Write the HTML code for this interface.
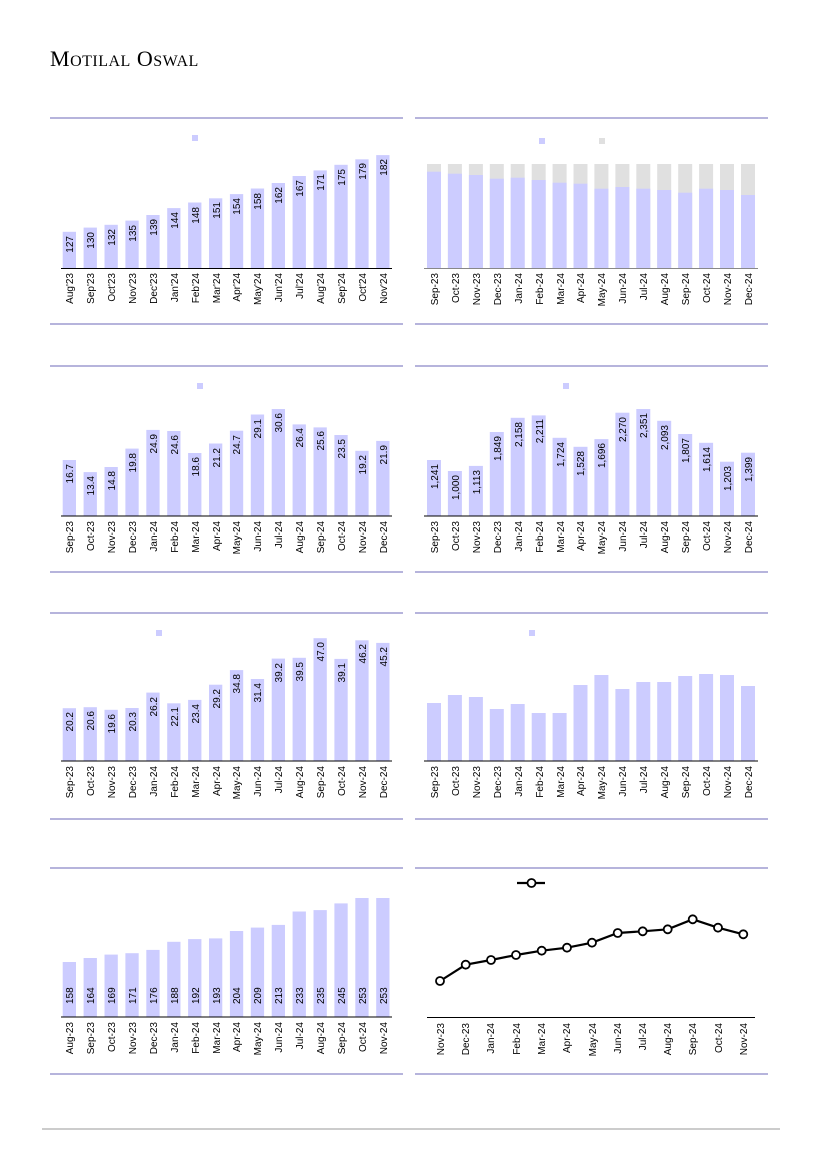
<!DOCTYPE html>
<html><head><meta charset="utf-8"><style>
html,body{margin:0;padding:0;background:#fff}
svg{display:block}
text{font-family:"Liberation Sans",sans-serif;font-size:10px;fill:#000}
.b{fill:#ccccff}.g{fill:#e0e0e0}
.r{stroke:#8a86c8;stroke-width:1.3}
.ax{stroke:#000;stroke-width:1}
</style></head><body>
<svg width="827" height="1169" viewBox="0 0 827 1169" xmlns="http://www.w3.org/2000/svg">
<text x="50" y="66" style="font-family:'Liberation Serif',serif;font-size:22px;letter-spacing:0.5px">M<tspan style="font-size:16px">OTILAL</tspan> O<tspan style="font-size:16px">SWAL</tspan></text>
<line x1="42" y1="1129" x2="780" y2="1129" stroke="#999" stroke-width="1"/>
<!-- rules -->
<g class="r">
<line x1="50" y1="118" x2="403" y2="118"/><line x1="50" y1="324" x2="403" y2="324"/>
<line x1="415" y1="118" x2="768" y2="118"/><line x1="415" y1="324" x2="768" y2="324"/>
<line x1="50" y1="366" x2="403" y2="366"/><line x1="50" y1="572" x2="403" y2="572"/>
<line x1="415" y1="366" x2="768" y2="366"/><line x1="415" y1="572" x2="768" y2="572"/>
<line x1="50" y1="613" x2="403" y2="613"/><line x1="50" y1="819" x2="403" y2="819"/>
<line x1="415" y1="613" x2="768" y2="613"/><line x1="415" y1="819" x2="768" y2="819"/>
<line x1="50" y1="868" x2="403" y2="868"/><line x1="50" y1="1074" x2="403" y2="1074"/>
<line x1="415" y1="868" x2="768" y2="868"/><line x1="415" y1="1074" x2="768" y2="1074"/>
</g>

<!-- Panel 1 -->
<rect class="b" x="192" y="135" width="6" height="6"/>
<g class="b">
<rect x="62.7" y="231.8" width="13.3" height="37.2"/><rect x="83.6" y="227.6" width="13.3" height="41.4"/><rect x="104.5" y="224.8" width="13.3" height="44.2"/><rect x="125.4" y="220.6" width="13.3" height="48.4"/><rect x="146.3" y="215" width="13.3" height="54"/><rect x="167.2" y="208.1" width="13.3" height="60.9"/><rect x="188.1" y="202.5" width="13.3" height="66.5"/><rect x="209" y="198.3" width="13.3" height="70.7"/><rect x="229.9" y="194.1" width="13.3" height="74.9"/><rect x="250.8" y="188.5" width="13.3" height="80.5"/><rect x="271.7" y="183" width="13.3" height="86"/><rect x="292.6" y="176" width="13.3" height="93"/><rect x="313.5" y="170.4" width="13.3" height="98.6"/><rect x="334.4" y="164.8" width="13.3" height="104.2"/><rect x="355.3" y="159.3" width="13.3" height="109.7"/><rect x="376.2" y="155.1" width="13.3" height="113.9"/>
</g>
<line class="ax" x1="61" y1="268.5" x2="392" y2="268.5"/>
<g text-anchor="end">
<text transform="translate(73,236) rotate(-90)">127</text><text transform="translate(94,232) rotate(-90)">130</text><text transform="translate(115,229) rotate(-90)">132</text><text transform="translate(136,225) rotate(-90)">135</text><text transform="translate(157,219) rotate(-90)">139</text><text transform="translate(178,212) rotate(-90)">144</text><text transform="translate(199,207) rotate(-90)">148</text><text transform="translate(220,202) rotate(-90)">151</text><text transform="translate(240,198) rotate(-90)">154</text><text transform="translate(261,193) rotate(-90)">158</text><text transform="translate(282,187) rotate(-90)">162</text><text transform="translate(303,180) rotate(-90)">167</text><text transform="translate(324,174) rotate(-90)">171</text><text transform="translate(345,169) rotate(-90)">175</text><text transform="translate(366,163) rotate(-90)">179</text><text transform="translate(387,159) rotate(-90)">182</text>
<text transform="translate(73,273) rotate(-90)">Aug'23</text><text transform="translate(94,273) rotate(-90)">Sep'23</text><text transform="translate(115,273) rotate(-90)">Oct'23</text><text transform="translate(136,273) rotate(-90)">Nov'23</text><text transform="translate(157,273) rotate(-90)">Dec'23</text><text transform="translate(178,273) rotate(-90)">Jan'24</text><text transform="translate(199,273) rotate(-90)">Feb'24</text><text transform="translate(220,273) rotate(-90)">Mar'24</text><text transform="translate(240,273) rotate(-90)">Apr'24</text><text transform="translate(261,273) rotate(-90)">May'24</text><text transform="translate(282,273) rotate(-90)">Jun'24</text><text transform="translate(303,273) rotate(-90)">Jul'24</text><text transform="translate(324,273) rotate(-90)">Aug'24</text><text transform="translate(345,273) rotate(-90)">Sep'24</text><text transform="translate(366,273) rotate(-90)">Oct'24</text><text transform="translate(387,273) rotate(-90)">Nov'24</text>
</g>

<!-- Panel 2 -->
<rect class="b" x="539" y="138" width="6" height="6"/><rect class="g" x="599" y="138" width="6" height="6"/>
<g class="g">
<rect x="427" y="164" width="14" height="105"/><rect x="447.9" y="164" width="14" height="105"/><rect x="468.9" y="164" width="14" height="105"/><rect x="489.8" y="164" width="14" height="105"/><rect x="510.7" y="164" width="14" height="105"/><rect x="531.7" y="164" width="14" height="105"/><rect x="552.6" y="164" width="14" height="105"/><rect x="573.5" y="164" width="14" height="105"/><rect x="594.4" y="164" width="14" height="105"/><rect x="615.4" y="164" width="14" height="105"/><rect x="636.3" y="164" width="14" height="105"/><rect x="657.2" y="164" width="14" height="105"/><rect x="678.2" y="164" width="14" height="105"/><rect x="699.1" y="164" width="14" height="105"/><rect x="720" y="164" width="14" height="105"/><rect x="741" y="164" width="14" height="105"/>
</g>
<g class="b">
<rect x="427" y="171.7" width="14" height="97.3"/><rect x="447.9" y="173.7" width="14" height="95.3"/><rect x="468.9" y="175" width="14" height="94"/><rect x="489.8" y="178.7" width="14" height="90.3"/><rect x="510.7" y="177.7" width="14" height="91.3"/><rect x="531.7" y="180" width="14" height="89"/><rect x="552.6" y="182.7" width="14" height="86.3"/><rect x="573.5" y="183.7" width="14" height="85.3"/><rect x="594.4" y="188.7" width="14" height="80.3"/><rect x="615.4" y="187" width="14" height="82"/><rect x="636.3" y="188.7" width="14" height="80.3"/><rect x="657.2" y="190" width="14" height="79"/><rect x="678.2" y="192.7" width="14" height="76.3"/><rect x="699.1" y="188.7" width="14" height="80.3"/><rect x="720" y="190" width="14" height="79"/><rect x="741" y="195" width="14" height="74"/>
</g>
<line x1="424" y1="268.5" x2="758" y2="268.5" stroke="#888"/>
<g text-anchor="end">
<text transform="translate(438,273) rotate(-90)">Sep-23</text><text transform="translate(459,273) rotate(-90)">Oct-23</text><text transform="translate(480,273) rotate(-90)">Nov-23</text><text transform="translate(501,273) rotate(-90)">Dec-23</text><text transform="translate(522,273) rotate(-90)">Jan-24</text><text transform="translate(543,273) rotate(-90)">Feb-24</text><text transform="translate(564,273) rotate(-90)">Mar-24</text><text transform="translate(584,273) rotate(-90)">Apr-24</text><text transform="translate(605,273) rotate(-90)">May-24</text><text transform="translate(626,273) rotate(-90)">Jun-24</text><text transform="translate(647,273) rotate(-90)">Jul-24</text><text transform="translate(668,273) rotate(-90)">Aug-24</text><text transform="translate(689,273) rotate(-90)">Sep-24</text><text transform="translate(710,273) rotate(-90)">Oct-24</text><text transform="translate(731,273) rotate(-90)">Nov-24</text><text transform="translate(752,273) rotate(-90)">Dec-24</text>
</g>

<!-- Panel 3 -->
<rect class="b" x="197" y="383" width="6" height="6"/>
<g class="b">
<rect x="62.7" y="460" width="13.3" height="56"/><rect x="83.6" y="472.1" width="13.3" height="43.9"/><rect x="104.5" y="467" width="13.3" height="49"/><rect x="125.4" y="448.6" width="13.3" height="67.4"/><rect x="146.3" y="429.9" width="13.3" height="86.1"/><rect x="167.2" y="431" width="13.3" height="85"/><rect x="188.1" y="453" width="13.3" height="63"/><rect x="209" y="443.5" width="13.3" height="72.5"/><rect x="229.9" y="430.7" width="13.3" height="85.3"/><rect x="250.8" y="414.5" width="13.3" height="101.5"/><rect x="271.7" y="409" width="13.3" height="107"/><rect x="292.6" y="424.4" width="13.3" height="91.6"/><rect x="313.5" y="427.4" width="13.3" height="88.6"/><rect x="334.4" y="435" width="13.3" height="81"/><rect x="355.3" y="450.8" width="13.3" height="65.2"/><rect x="376.2" y="440.9" width="13.3" height="75.1"/>
</g>
<line class="ax" x1="61" y1="516" x2="392" y2="516"/>
<g text-anchor="end">
<text transform="translate(73,464) rotate(-90)">16.7</text><text transform="translate(94,476) rotate(-90)">13.4</text><text transform="translate(115,471) rotate(-90)">14.8</text><text transform="translate(136,453) rotate(-90)">19.8</text><text transform="translate(157,434) rotate(-90)">24.9</text><text transform="translate(178,435) rotate(-90)">24.6</text><text transform="translate(199,457) rotate(-90)">18.6</text><text transform="translate(220,448) rotate(-90)">21.2</text><text transform="translate(240,435) rotate(-90)">24.7</text><text transform="translate(261,419) rotate(-90)">29.1</text><text transform="translate(282,413) rotate(-90)">30.6</text><text transform="translate(303,428) rotate(-90)">26.4</text><text transform="translate(324,431) rotate(-90)">25.6</text><text transform="translate(345,439) rotate(-90)">23.5</text><text transform="translate(366,455) rotate(-90)">19.2</text><text transform="translate(387,445) rotate(-90)">21.9</text>
<text transform="translate(73,521) rotate(-90)">Sep-23</text><text transform="translate(94,521) rotate(-90)">Oct-23</text><text transform="translate(115,521) rotate(-90)">Nov-23</text><text transform="translate(136,521) rotate(-90)">Dec-23</text><text transform="translate(157,521) rotate(-90)">Jan-24</text><text transform="translate(178,521) rotate(-90)">Feb-24</text><text transform="translate(199,521) rotate(-90)">Mar-24</text><text transform="translate(220,521) rotate(-90)">Apr-24</text><text transform="translate(240,521) rotate(-90)">May-24</text><text transform="translate(261,521) rotate(-90)">Jun-24</text><text transform="translate(282,521) rotate(-90)">Jul-24</text><text transform="translate(303,521) rotate(-90)">Aug-24</text><text transform="translate(324,521) rotate(-90)">Sep-24</text><text transform="translate(345,521) rotate(-90)">Oct-24</text><text transform="translate(366,521) rotate(-90)">Nov-24</text><text transform="translate(387,521) rotate(-90)">Dec-24</text>
</g>

<!-- Panel 4 -->
<rect class="b" x="563" y="383" width="6" height="6"/>
<g class="b">
<rect x="427" y="460" width="14" height="56"/><rect x="447.9" y="471" width="14" height="45"/><rect x="468.9" y="465.9" width="14" height="50.1"/><rect x="489.8" y="432" width="14" height="84"/><rect x="510.7" y="417.8" width="14" height="98.2"/><rect x="531.7" y="415.4" width="14" height="100.6"/><rect x="552.6" y="437.8" width="14" height="78.2"/><rect x="573.5" y="446.8" width="14" height="69.2"/><rect x="594.4" y="439.1" width="14" height="76.9"/><rect x="615.4" y="412.7" width="14" height="103.3"/><rect x="636.3" y="409" width="14" height="107"/><rect x="657.2" y="420.8" width="14" height="95.2"/><rect x="678.2" y="434" width="14" height="82"/><rect x="699.1" y="442.8" width="14" height="73.2"/><rect x="720" y="461.7" width="14" height="54.3"/><rect x="741" y="452.7" width="14" height="63.3"/>
</g>
<line class="ax" x1="424" y1="516" x2="758" y2="516"/>
<g text-anchor="end">
<text transform="translate(438,464) rotate(-90)">1,241</text><text transform="translate(459,475) rotate(-90)">1,000</text><text transform="translate(480,470) rotate(-90)">1,113</text><text transform="translate(501,436) rotate(-90)">1,849</text><text transform="translate(522,422) rotate(-90)">2,158</text><text transform="translate(543,419) rotate(-90)">2,211</text><text transform="translate(564,442) rotate(-90)">1,724</text><text transform="translate(584,451) rotate(-90)">1,528</text><text transform="translate(605,443) rotate(-90)">1,696</text><text transform="translate(626,417) rotate(-90)">2,270</text><text transform="translate(647,413) rotate(-90)">2,351</text><text transform="translate(668,425) rotate(-90)">2,093</text><text transform="translate(689,438) rotate(-90)">1,807</text><text transform="translate(710,447) rotate(-90)">1,614</text><text transform="translate(731,466) rotate(-90)">1,203</text><text transform="translate(752,457) rotate(-90)">1,399</text>
<text transform="translate(438,521) rotate(-90)">Sep-23</text><text transform="translate(459,521) rotate(-90)">Oct-23</text><text transform="translate(480,521) rotate(-90)">Nov-23</text><text transform="translate(501,521) rotate(-90)">Dec-23</text><text transform="translate(522,521) rotate(-90)">Jan-24</text><text transform="translate(543,521) rotate(-90)">Feb-24</text><text transform="translate(564,521) rotate(-90)">Mar-24</text><text transform="translate(584,521) rotate(-90)">Apr-24</text><text transform="translate(605,521) rotate(-90)">May-24</text><text transform="translate(626,521) rotate(-90)">Jun-24</text><text transform="translate(647,521) rotate(-90)">Jul-24</text><text transform="translate(668,521) rotate(-90)">Aug-24</text><text transform="translate(689,521) rotate(-90)">Sep-24</text><text transform="translate(710,521) rotate(-90)">Oct-24</text><text transform="translate(731,521) rotate(-90)">Nov-24</text><text transform="translate(752,521) rotate(-90)">Dec-24</text>
</g>

<!-- Panel 5 -->
<rect class="b" x="156" y="630" width="6" height="6"/>
<g class="b">
<rect x="62.7" y="708.2" width="13.3" height="52.8"/><rect x="83.6" y="707.2" width="13.3" height="53.8"/><rect x="104.5" y="709.8" width="13.3" height="51.2"/><rect x="125.4" y="708" width="13.3" height="53"/><rect x="146.3" y="692.6" width="13.3" height="68.4"/><rect x="167.2" y="703.3" width="13.3" height="57.7"/><rect x="188.1" y="699.9" width="13.3" height="61.1"/><rect x="209" y="684.7" width="13.3" height="76.3"/><rect x="229.9" y="670.1" width="13.3" height="90.9"/><rect x="250.8" y="679" width="13.3" height="82"/><rect x="271.7" y="658.6" width="13.3" height="102.4"/><rect x="292.6" y="657.8" width="13.3" height="103.2"/><rect x="313.5" y="638.2" width="13.3" height="122.8"/><rect x="334.4" y="658.9" width="13.3" height="102.1"/><rect x="355.3" y="640.3" width="13.3" height="120.7"/><rect x="376.2" y="642.9" width="13.3" height="118.1"/>
</g>
<line class="ax" x1="61" y1="761" x2="392" y2="761"/>
<g text-anchor="end">
<text transform="translate(73,712) rotate(-90)">20.2</text><text transform="translate(94,711) rotate(-90)">20.6</text><text transform="translate(115,714) rotate(-90)">19.6</text><text transform="translate(136,712) rotate(-90)">20.3</text><text transform="translate(157,697) rotate(-90)">26.2</text><text transform="translate(178,707) rotate(-90)">22.1</text><text transform="translate(199,704) rotate(-90)">23.4</text><text transform="translate(220,689) rotate(-90)">29.2</text><text transform="translate(240,674) rotate(-90)">34.8</text><text transform="translate(261,683) rotate(-90)">31.4</text><text transform="translate(282,663) rotate(-90)">39.2</text><text transform="translate(303,662) rotate(-90)">39.5</text><text transform="translate(324,642) rotate(-90)">47.0</text><text transform="translate(345,663) rotate(-90)">39.1</text><text transform="translate(366,644) rotate(-90)">46.2</text><text transform="translate(387,647) rotate(-90)">45.2</text>
<text transform="translate(73,766) rotate(-90)">Sep-23</text><text transform="translate(94,766) rotate(-90)">Oct-23</text><text transform="translate(115,766) rotate(-90)">Nov-23</text><text transform="translate(136,766) rotate(-90)">Dec-23</text><text transform="translate(157,766) rotate(-90)">Jan-24</text><text transform="translate(178,766) rotate(-90)">Feb-24</text><text transform="translate(199,766) rotate(-90)">Mar-24</text><text transform="translate(220,766) rotate(-90)">Apr-24</text><text transform="translate(240,766) rotate(-90)">May-24</text><text transform="translate(261,766) rotate(-90)">Jun-24</text><text transform="translate(282,766) rotate(-90)">Jul-24</text><text transform="translate(303,766) rotate(-90)">Aug-24</text><text transform="translate(324,766) rotate(-90)">Sep-24</text><text transform="translate(345,766) rotate(-90)">Oct-24</text><text transform="translate(366,766) rotate(-90)">Nov-24</text><text transform="translate(387,766) rotate(-90)">Dec-24</text>
</g>

<!-- Panel 6 -->
<rect class="b" x="529" y="630" width="6" height="6"/>
<g class="b">
<rect x="427" y="703" width="14" height="58"/><rect x="447.9" y="695" width="14" height="66"/><rect x="468.9" y="697" width="14" height="64"/><rect x="489.8" y="709" width="14" height="52"/><rect x="510.7" y="704" width="14" height="57"/><rect x="531.7" y="713" width="14" height="48"/><rect x="552.6" y="713" width="14" height="48"/><rect x="573.5" y="685" width="14" height="76"/><rect x="594.4" y="675" width="14" height="86"/><rect x="615.4" y="689" width="14" height="72"/><rect x="636.3" y="682" width="14" height="79"/><rect x="657.2" y="682" width="14" height="79"/><rect x="678.2" y="676" width="14" height="85"/><rect x="699.1" y="674" width="14" height="87"/><rect x="720" y="675" width="14" height="86"/><rect x="741" y="686" width="14" height="75"/>
</g>
<line class="ax" x1="424" y1="761" x2="758" y2="761"/>
<g text-anchor="end">
<text transform="translate(438,766) rotate(-90)">Sep-23</text><text transform="translate(459,766) rotate(-90)">Oct-23</text><text transform="translate(480,766) rotate(-90)">Nov-23</text><text transform="translate(501,766) rotate(-90)">Dec-23</text><text transform="translate(522,766) rotate(-90)">Jan-24</text><text transform="translate(543,766) rotate(-90)">Feb-24</text><text transform="translate(564,766) rotate(-90)">Mar-24</text><text transform="translate(584,766) rotate(-90)">Apr-24</text><text transform="translate(605,766) rotate(-90)">May-24</text><text transform="translate(626,766) rotate(-90)">Jun-24</text><text transform="translate(647,766) rotate(-90)">Jul-24</text><text transform="translate(668,766) rotate(-90)">Aug-24</text><text transform="translate(689,766) rotate(-90)">Sep-24</text><text transform="translate(710,766) rotate(-90)">Oct-24</text><text transform="translate(731,766) rotate(-90)">Nov-24</text><text transform="translate(752,766) rotate(-90)">Dec-24</text>
</g>

<!-- Panel 7 -->
<g class="b">
<rect x="62.7" y="962" width="13.3" height="55"/><rect x="83.6" y="958" width="13.3" height="59"/><rect x="104.5" y="954.6" width="13.3" height="62.4"/><rect x="125.4" y="953.2" width="13.3" height="63.8"/><rect x="146.3" y="949.9" width="13.3" height="67.1"/><rect x="167.2" y="941.8" width="13.3" height="75.2"/><rect x="188.1" y="939.1" width="13.3" height="77.9"/><rect x="209" y="938.4" width="13.3" height="78.6"/><rect x="229.9" y="931" width="13.3" height="86"/><rect x="250.8" y="927.6" width="13.3" height="89.4"/><rect x="271.7" y="924.9" width="13.3" height="92.1"/><rect x="292.6" y="911.5" width="13.3" height="105.5"/><rect x="313.5" y="910.1" width="13.3" height="106.9"/><rect x="334.4" y="903.4" width="13.3" height="113.6"/><rect x="355.3" y="898" width="13.3" height="119"/><rect x="376.2" y="898" width="13.3" height="119"/>
</g>
<line class="ax" x1="61" y1="1017" x2="392" y2="1017"/>
<g text-anchor="start">
<text transform="translate(73,1004) rotate(-90)">158</text><text transform="translate(94,1004) rotate(-90)">164</text><text transform="translate(115,1004) rotate(-90)">169</text><text transform="translate(136,1004) rotate(-90)">171</text><text transform="translate(157,1004) rotate(-90)">176</text><text transform="translate(178,1004) rotate(-90)">188</text><text transform="translate(199,1004) rotate(-90)">192</text><text transform="translate(220,1004) rotate(-90)">193</text><text transform="translate(240,1004) rotate(-90)">204</text><text transform="translate(261,1004) rotate(-90)">209</text><text transform="translate(282,1004) rotate(-90)">213</text><text transform="translate(303,1004) rotate(-90)">233</text><text transform="translate(324,1004) rotate(-90)">235</text><text transform="translate(345,1004) rotate(-90)">245</text><text transform="translate(366,1004) rotate(-90)">253</text><text transform="translate(387,1004) rotate(-90)">253</text>
</g>
<g text-anchor="end">
<text transform="translate(73,1022) rotate(-90)">Aug-23</text><text transform="translate(94,1022) rotate(-90)">Sep-23</text><text transform="translate(115,1022) rotate(-90)">Oct-23</text><text transform="translate(136,1022) rotate(-90)">Nov-23</text><text transform="translate(157,1022) rotate(-90)">Dec-23</text><text transform="translate(178,1022) rotate(-90)">Jan-24</text><text transform="translate(199,1022) rotate(-90)">Feb-24</text><text transform="translate(220,1022) rotate(-90)">Mar-24</text><text transform="translate(240,1022) rotate(-90)">Apr-24</text><text transform="translate(261,1022) rotate(-90)">May-24</text><text transform="translate(282,1022) rotate(-90)">Jun-24</text><text transform="translate(303,1022) rotate(-90)">Jul-24</text><text transform="translate(324,1022) rotate(-90)">Aug-24</text><text transform="translate(345,1022) rotate(-90)">Sep-24</text><text transform="translate(366,1022) rotate(-90)">Oct-24</text><text transform="translate(387,1022) rotate(-90)">Nov-24</text>
</g>

<!-- Panel 8 -->
<line x1="517" y1="883" x2="545" y2="883" stroke="#000" stroke-width="2.2"/>
<circle cx="531.5" cy="883" r="4" fill="#fff" stroke="#000" stroke-width="1.8"/>
<line class="ax" x1="427" y1="1017.5" x2="755" y2="1017.5"/>
<polyline fill="none" stroke="#000" stroke-width="2.2" points="440,981 465.7,964.7 491,960 516,955 541.7,950.7 567,947.7 592,942.7 617.7,933 642.7,931.3 667.7,929.3 692.7,919.3 718,927.7 743.3,934.3"/>
<g fill="#fff" stroke="#000" stroke-width="1.8">
<circle cx="440" cy="981" r="4"/><circle cx="465.7" cy="964.7" r="4"/><circle cx="491" cy="960" r="4"/><circle cx="516" cy="955" r="4"/><circle cx="541.7" cy="950.7" r="4"/><circle cx="567" cy="947.7" r="4"/><circle cx="592" cy="942.7" r="4"/><circle cx="617.7" cy="933" r="4"/><circle cx="642.7" cy="931.3" r="4"/><circle cx="667.7" cy="929.3" r="4"/><circle cx="692.7" cy="919.3" r="4"/><circle cx="718" cy="927.7" r="4"/><circle cx="743.3" cy="934.3" r="4"/>
</g>
<g text-anchor="end">
<text transform="translate(444,1023) rotate(-90)">Nov-23</text><text transform="translate(469,1023) rotate(-90)">Dec-23</text><text transform="translate(494,1023) rotate(-90)">Jan-24</text><text transform="translate(520,1023) rotate(-90)">Feb-24</text><text transform="translate(545,1023) rotate(-90)">Mar-24</text><text transform="translate(570,1023) rotate(-90)">Apr-24</text><text transform="translate(596,1023) rotate(-90)">May-24</text><text transform="translate(621,1023) rotate(-90)">Jun-24</text><text transform="translate(646,1023) rotate(-90)">Jul-24</text><text transform="translate(671,1023) rotate(-90)">Aug-24</text><text transform="translate(696,1023) rotate(-90)">Sep-24</text><text transform="translate(722,1023) rotate(-90)">Oct-24</text><text transform="translate(747,1023) rotate(-90)">Nov-24</text>
</g>
</svg>
</body></html>
